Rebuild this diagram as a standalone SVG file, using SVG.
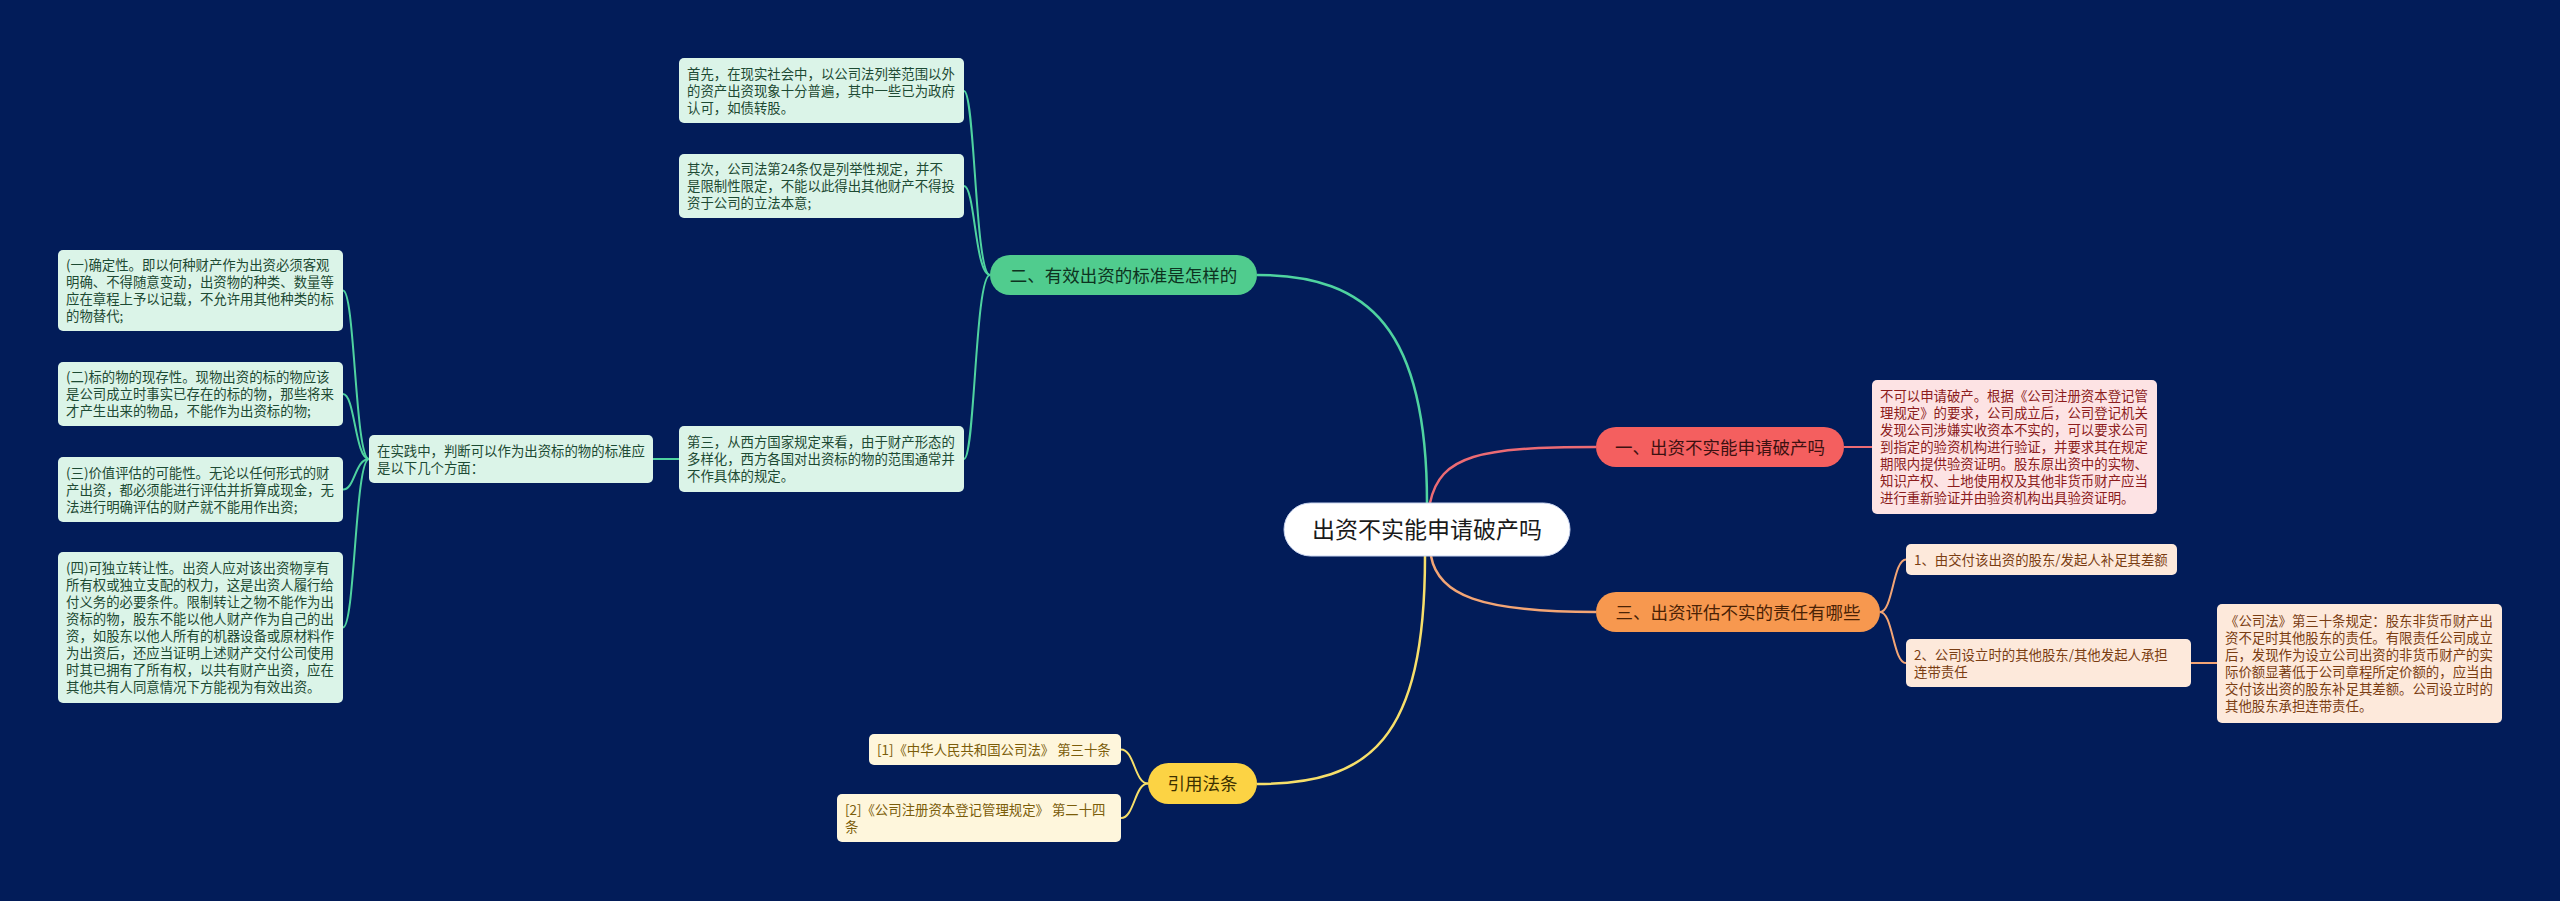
<svg xmlns="http://www.w3.org/2000/svg" width="2560" height="901" viewBox="0 0 2560 901">
<style>
.t{font-family:"Noto Sans CJK SC","Noto Sans",sans-serif;}
.lf{font-size:13.4px;}
.br{font-size:17.5px;text-anchor:middle;}
.c{fill:none;stroke-width:2;}
.m{fill:none;stroke-width:2.5;}
.g{stroke:#4fd3a0;}
.r{stroke:#ec6b74;}
.o{stroke:#f3a575;}
.y{stroke:#f7df6a;}
.gb{fill:#dbf4e8;}
.gt{fill:#1d4a33;}
.pb{fill:#fde3e4;}
.pt{fill:#8c1c1c;}
.ob{fill:#fde9db;}
.ot{fill:#7a3d12;}
.yb{fill:#fef6dc;}
.yt{fill:#7b5d0a;}
</style>
<rect x="0" y="0" width="2560" height="901" fill="#021c59"/>
<g id="connectors">
<path class="m g" d="M1257,275 C1370,275 1427,330 1427,503"/>
<path class="m r" d="M1430,503 C1440,455 1480,447 1596,447"/>
<path class="m o" d="M1431,556 C1438,595 1480,612 1596,612"/>
<path class="m y" d="M1425,556 C1425,740 1370,784 1257,784"/>
<path class="c g" d="M990,275 C975,275 975,91 964,91"/>
<path class="c g" d="M990,275 C975,275 975,186 964,186"/>
<path class="c g" d="M990,275 C975,275 975,459 964,459"/>
<path class="c g" d="M679,459 L653,459"/>
<path class="c g" d="M369,459 C355,459 355,290.5 343,290.5"/>
<path class="c g" d="M369,459 C355,459 355,394 343,394"/>
<path class="c g" d="M369,459 C355,459 355,489.5 343,489.5"/>
<path class="c g" d="M369,459 C355,459 355,627.5 343,627.5"/>
<path class="c r" d="M1844,447 L1872,447"/>
<path class="c o" d="M1880,612 C1893,612 1893,559.5 1906,559.5"/>
<path class="c o" d="M1880,612 C1893,612 1893,663 1906,663"/>
<path class="c o" d="M2191,663 L2217,663"/>
<path class="c y" d="M1148,783.5 C1134.5,783.5 1134.5,749.5 1121,749.5"/>
<path class="c y" d="M1148,783.5 C1134.5,783.5 1134.5,818 1121,818"/>
</g>
<g id="center">
<rect x="1284" y="503" width="286" height="53" rx="26.5" fill="#ffffff" stroke="#c9d5f0" stroke-width="1"/>
<text class="t" x="1427" y="538.2" font-size="23" text-anchor="middle" fill="#1a1a1a">出资不实能申请破产吗</text>
</g>
<g id="branch1">
<rect x="1596" y="427" width="248" height="40" rx="20" fill="#f45f5f"/>
<text class="t br" x="1720" y="453.6" fill="#3d1111">一、出资不实能申请破产吗</text>
</g>
<g id="branch2">
<rect x="990" y="255" width="267" height="40" rx="20" fill="#50cc8e"/>
<text class="t br" x="1123.5" y="281.6" fill="#0d3320">二、有效出资的标准是怎样的</text>
</g>
<g id="branch3">
<rect x="1596" y="592" width="284" height="40" rx="20" fill="#f7984f"/>
<text class="t br" x="1738" y="618.6" fill="#4a2205">三、出资评估不实的责任有哪些</text>
</g>
<g id="branch4">
<rect x="1148" y="763" width="109" height="41" rx="20.5" fill="#fcd344"/>
<text class="t br" x="1202.5" y="790" fill="#3d3000">引用法条</text>
</g>
<g id="leaf-a">
<rect class="gb" x="679" y="58" width="285" height="65" rx="5"/>
<text class="t lf gt"><tspan x="687" y="78.6">首先，在现实社会中，以公司法列举范围以外</tspan><tspan x="687" y="95.6">的资产出资现象十分普遍，其中一些已为政府</tspan><tspan x="687" y="112.6">认可，如债转股。</tspan></text>
</g>
<g id="leaf-b">
<rect class="gb" x="679" y="154" width="285" height="64" rx="5"/>
<text class="t lf gt"><tspan x="687" y="174.1">其次，公司法第24条仅是列举性规定，并不</tspan><tspan x="687" y="191.1">是限制性限定，不能以此得出其他财产不得投</tspan><tspan x="687" y="208.1">资于公司的立法本意;</tspan></text>
</g>
<g id="leaf-c">
<rect class="gb" x="679" y="426" width="285" height="66" rx="5"/>
<text class="t lf gt"><tspan x="687" y="447.1">第三，从西方国家规定来看，由于财产形态的</tspan><tspan x="687" y="464.1">多样化，西方各国对出资标的物的范围通常并</tspan><tspan x="687" y="481.1">不作具体的规定。</tspan></text>
</g>
<g id="leaf-d">
<rect class="gb" x="369" y="435" width="284" height="48" rx="5"/>
<text class="t lf gt"><tspan x="377" y="455.6">在实践中，判断可以作为出资标的物的标准应</tspan><tspan x="377" y="472.6">是以下几个方面：</tspan></text>
</g>
<g id="leaf-e">
<rect class="gb" x="58" y="250" width="285" height="81" rx="5"/>
<text class="t lf gt"><tspan x="66" y="270.1">(一)确定性。即以何种财产作为出资必须客观</tspan><tspan x="66" y="287.1">明确、不得随意变动，出资物的种类、数量等</tspan><tspan x="66" y="304.1">应在章程上予以记载，不允许用其他种类的标</tspan><tspan x="66" y="321.1">的物替代;</tspan></text>
</g>
<g id="leaf-f">
<rect class="gb" x="58" y="362" width="285" height="64" rx="5"/>
<text class="t lf gt"><tspan x="66" y="382.1">(二)标的物的现存性。现物出资的标的物应该</tspan><tspan x="66" y="399.1">是公司成立时事实已存在的标的物，那些将来</tspan><tspan x="66" y="416.1">才产生出来的物品，不能作为出资标的物;</tspan></text>
</g>
<g id="leaf-g">
<rect class="gb" x="58" y="457" width="285" height="65" rx="5"/>
<text class="t lf gt"><tspan x="66" y="477.6">(三)价值评估的可能性。无论以任何形式的财</tspan><tspan x="66" y="494.6">产出资，都必须能进行评估并折算成现金，无</tspan><tspan x="66" y="511.6">法进行明确评估的财产就不能用作出资;</tspan></text>
</g>
<g id="leaf-h">
<rect class="gb" x="58" y="552" width="285" height="151" rx="5"/>
<text class="t lf gt"><tspan x="66" y="573.1">(四)可独立转让性。出资人应对该出资物享有</tspan><tspan x="66" y="590.1">所有权或独立支配的权力，这是出资人履行给</tspan><tspan x="66" y="607.1">付义务的必要条件。限制转让之物不能作为出</tspan><tspan x="66" y="624.1">资标的物，股东不能以他人财产作为自己的出</tspan><tspan x="66" y="641.1">资，如股东以他人所有的机器设备或原材料作</tspan><tspan x="66" y="658.1">为出资后，还应当证明上述财产交付公司使用</tspan><tspan x="66" y="675.1">时其已拥有了所有权，以共有财产出资，应在</tspan><tspan x="66" y="692.1">其他共有人同意情况下方能视为有效出资。</tspan></text>
</g>
<g id="leaf-pink">
<rect class="pb" x="1872" y="380" width="285" height="134" rx="5"/>
<text class="t lf pt"><tspan x="1880" y="401.1">不可以申请破产。根据《公司注册资本登记管</tspan><tspan x="1880" y="418.1">理规定》的要求，公司成立后，公司登记机关</tspan><tspan x="1880" y="435.1">发现公司涉嫌实收资本不实的，可以要求公司</tspan><tspan x="1880" y="452.1">到指定的验资机构进行验证，并要求其在规定</tspan><tspan x="1880" y="469.1">期限内提供验资证明。股东原出资中的实物、</tspan><tspan x="1880" y="486.1">知识产权、土地使用权及其他非货币财产应当</tspan><tspan x="1880" y="503.1">进行重新验证并由验资机构出具验资证明。</tspan></text>
</g>
<g id="leaf-o1">
<rect class="ob" x="1906" y="544" width="271" height="31" rx="5"/>
<text class="t lf ot" x="1914" y="564.6">1、由交付该出资的股东/发起人补足其差额</text>
</g>
<g id="leaf-o2">
<rect class="ob" x="1906" y="639" width="285" height="48" rx="5"/>
<text class="t lf ot"><tspan x="1914" y="659.6">2、公司设立时的其他股东/其他发起人承担</tspan><tspan x="1914" y="676.6">连带责任</tspan></text>
</g>
<g id="leaf-o3">
<rect class="ob" x="2217" y="604" width="285" height="119" rx="5"/>
<text class="t lf ot"><tspan x="2225" y="626.1">《公司法》第三十条规定：股东非货币财产出</tspan><tspan x="2225" y="643.1">资不足时其他股东的责任。有限责任公司成立</tspan><tspan x="2225" y="660.1">后，发现作为设立公司出资的非货币财产的实</tspan><tspan x="2225" y="677.1">际价额显著低于公司章程所定价额的，应当由</tspan><tspan x="2225" y="694.1">交付该出资的股东补足其差额。公司设立时的</tspan><tspan x="2225" y="711.1">其他股东承担连带责任。</tspan></text>
</g>
<g id="ref1">
<rect class="yb" x="869" y="734" width="252" height="31" rx="5"/>
<text class="t lf yt" x="877" y="754.6">[1]《中华人民共和国公司法》 第三十条</text>
</g>
<g id="ref2">
<rect class="yb" x="837" y="794" width="284" height="48" rx="5"/>
<text class="t lf yt"><tspan x="845" y="814.6">[2]《公司注册资本登记管理规定》 第二十四</tspan><tspan x="845" y="831.6">条</tspan></text>
</g>
</svg>
